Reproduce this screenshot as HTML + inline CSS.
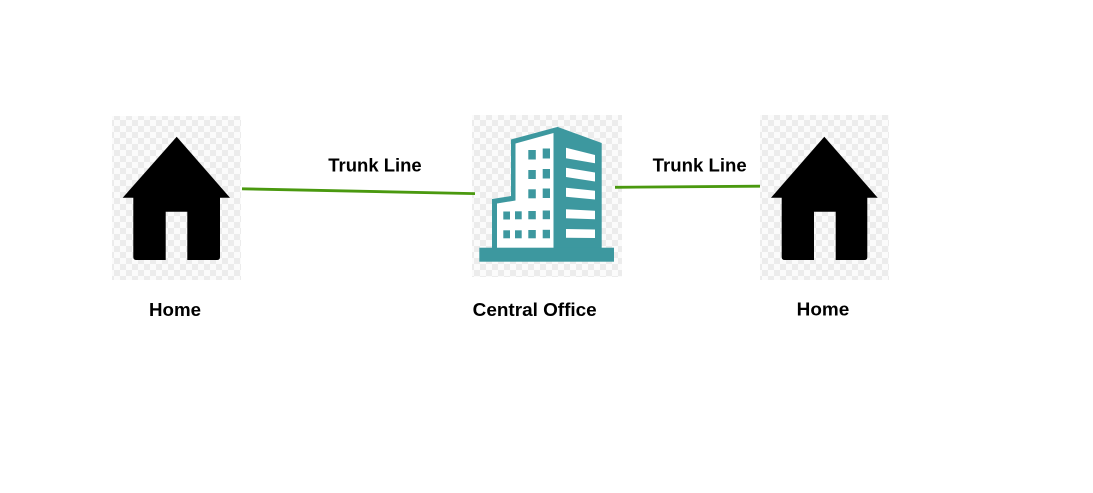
<!DOCTYPE html>
<html>
<head>
<meta charset="utf-8">
<style>
  html,body{margin:0;padding:0;background:#fff;}
  body{width:1093px;height:493px;overflow:hidden;}
  svg{display:block;}
  text{font-family:"Liberation Sans",Arial,sans-serif;font-weight:bold;font-size:18px;fill:#000;}
</style>
</head>
<body>
<svg width="1093" height="493" viewBox="0 0 1093 493" xmlns="http://www.w3.org/2000/svg">
  <defs>
    <pattern id="chk" width="12" height="12" patternUnits="userSpaceOnUse">
      <rect width="12" height="12" fill="#fbfbfb"/>
      <rect width="6" height="6" fill="#ececec"/>
      <rect x="6" y="6" width="6" height="6" fill="#ececec"/>
    </pattern>
  </defs>
  <rect width="1093" height="493" fill="#fff"/>

  <!-- checker backgrounds -->
  <rect x="112" y="116" width="129" height="164" fill="url(#chk)"/>
  <rect x="472" y="115" width="150" height="162" fill="url(#chk)"/>
  <rect x="760" y="115" width="129" height="165" fill="url(#chk)"/>

  <!-- connectors -->
  <line x1="242" y1="188.8" x2="475" y2="193.6" stroke="#4a990f" stroke-width="2.8"/>
  <line x1="615" y1="187.3" x2="760" y2="186.2" stroke="#4a990f" stroke-width="2.8"/>

  <!-- Home 1 -->
  <g fill="#000">
    <polygon points="176.7,136.7 230,197.7 122.7,197.7"/>
    <path d="M133.3,196 H220 V257 Q220,260 217,260 H187.3 V211.7 H165.7 V260 H136.3 Q133.3,260 133.3,257 Z"/>
  </g>

  <!-- Home 2 -->
  <g fill="#000">
    <polygon points="824.3,136.7 877.7,197.7 771,197.7"/>
    <path d="M781.7,196 H867.3 V257 Q867.3,260 864.3,260 H835.7 V211.7 H814 V260 H784.7 Q781.7,260 781.7,257 Z"/>
  </g>

  <!-- Central Office building -->
  <g fill="#3d989f">
    <!-- left portion outline (wing + tower) -->
    <polygon points="492,249 492,199 511,196 511,139.5 558.3,126.7 558.3,249"/>
    <!-- right face -->
    <polygon points="557,126.7 601.7,143 601.7,249 557,249"/>
  </g>
  <!-- white interior of left face -->
  <polygon points="497,249 497,203.5 515.5,200.5 515.5,143.5 553.5,133 553.5,249" fill="#fff"/>
  <g fill="#3d989f">
    <!-- windows upper 2 columns -->
    <rect x="528.3" y="150" width="7.5" height="9.5"/>
    <rect x="542.7" y="148.5" width="7.3" height="10"/>
    <rect x="528.3" y="170" width="7.5" height="9"/>
    <rect x="542.7" y="169" width="7.3" height="9.5"/>
    <rect x="528.3" y="189.3" width="7.5" height="9"/>
    <rect x="542.7" y="188.5" width="7.3" height="9.5"/>
    <!-- lower rows 4 columns -->
    <rect x="503.3" y="211.5" width="6.7" height="8"/>
    <rect x="515" y="211.3" width="6.7" height="8"/>
    <rect x="528.3" y="211" width="7.5" height="8.3"/>
    <rect x="542.7" y="210.5" width="7.3" height="8.7"/>
    <rect x="503.3" y="230.3" width="6.7" height="8"/>
    <rect x="515" y="230.3" width="6.7" height="8"/>
    <rect x="528.3" y="230" width="7.5" height="8.3"/>
    <rect x="542.7" y="229.8" width="7.3" height="8.5"/>
    <!-- base -->
    <rect x="479.3" y="247.7" width="134.7" height="14"/>
  </g>
  <!-- slats on right face -->
  <g fill="#fff">
    <polygon points="566,147.7 595,155 595,163.3 566,158.3"/>
    <polygon points="566,167.7 595,172.5 595,181.5 566,177"/>
    <polygon points="566,187.7 595,190.7 595,199.5 566,196.7"/>
    <polygon points="566,209.3 595,210.8 595,219.3 566,218.3"/>
    <polygon points="566,229 595,229.5 595,238 566,237.7"/>
  </g>

  <!-- labels -->
  <text x="328.3" y="171.7" textLength="93.4" lengthAdjust="spacingAndGlyphs">Trunk Line</text>
  <text x="652.7" y="171.7" textLength="94" lengthAdjust="spacingAndGlyphs">Trunk Line</text>
  <text x="149" y="316" textLength="52" lengthAdjust="spacingAndGlyphs">Home</text>
  <text x="472.7" y="316" textLength="124" lengthAdjust="spacingAndGlyphs">Central Office</text>
  <text x="796.7" y="315.7" textLength="52.6" lengthAdjust="spacingAndGlyphs">Home</text>
</svg>
</body>
</html>
